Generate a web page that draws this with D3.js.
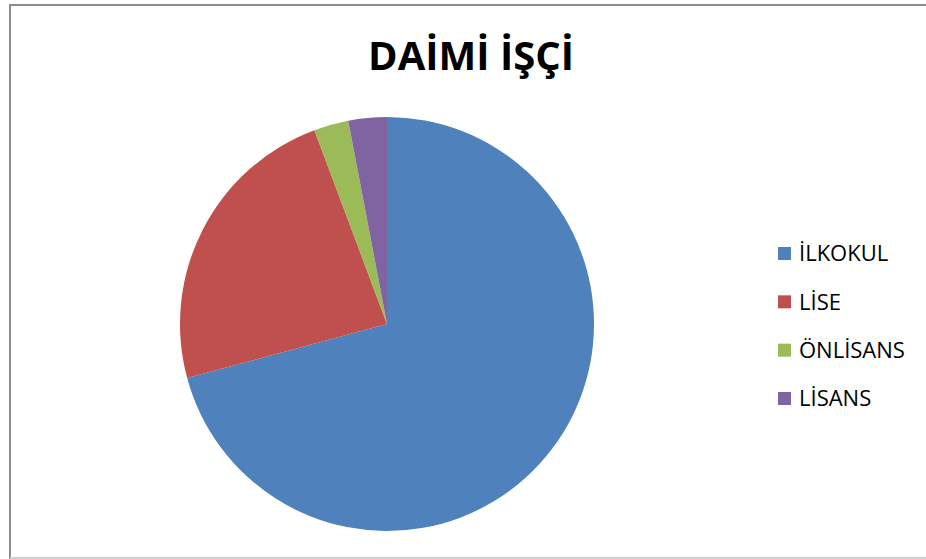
<!DOCTYPE html>
<html><head><meta charset="utf-8">
<script src="https://cdn.jsdelivr.net/npm/d3@7"></script>
<style>body{margin:0;background:#fff}svg{display:block}</style>
</head><body>
<svg id="c" width="926" height="559"></svg>
<script>
const categories = ["İLKOKUL", "LİSE", "ÖNLİSANS", "LİSANS"];
const values = [70.8, 23.5, 2.7, 3.0];
const colors = ["#4F81BD", "#C0504D", "#9BBB59", "#8064A2"];
const title = "DAİMİ İŞÇİ";

const svg = d3.select("#c");
svg.append("rect").attr("x", 10).attr("y", 5).attr("width", 930).attr("height", 553)
  .attr("fill", "#fff").attr("stroke", "#8c8c8c").attr("stroke-width", 2);
svg.append("line").attr("x1", 10).attr("x2", 926).attr("y1", 558).attr("y2", 558)
  .attr("stroke", "#d0d0d0").attr("stroke-width", 2);

svg.append("text").attr("x", 471).attr("y", 69.5).attr("text-anchor", "middle")
  .attr("font-family", "Open Sans").attr("font-weight", "bold").attr("font-size", 40)
  .attr("fill", "#000").text(title);

const data = categories.map((c, i) => ({c, v: values[i]}));
const pie = d3.pie().value(d => d.v).sort(null);
const arc = d3.arc().innerRadius(0).outerRadius(207);
const color = d3.scaleOrdinal().domain(categories).range(colors);
const g = svg.append("g").attr("transform", "translate(387,324)");
g.selectAll("path").data(pie(data)).enter().append("path")
  .attr("d", arc).attr("fill", d => color(d.data.c));

const lg = svg.append("g").attr("transform", "translate(778,0)");
const ly = d3.scalePoint().domain(categories).range([253.5, 398.5]);
const items = lg.selectAll("g").data(categories).enter().append("g")
  .attr("transform", d => `translate(0,${ly(d)})`);
items.append("rect").attr("x", 0).attr("y", -6.5).attr("width", 13).attr("height", 13)
  .attr("fill", d => color(d));
items.append("text").attr("x", 21).attr("y", 0).attr("dy", "0.36em")
  .attr("font-family", "Open Sans").attr("font-size", 22).attr("fill", "#000")
  .text(d => d);
</script>
</body></html>
